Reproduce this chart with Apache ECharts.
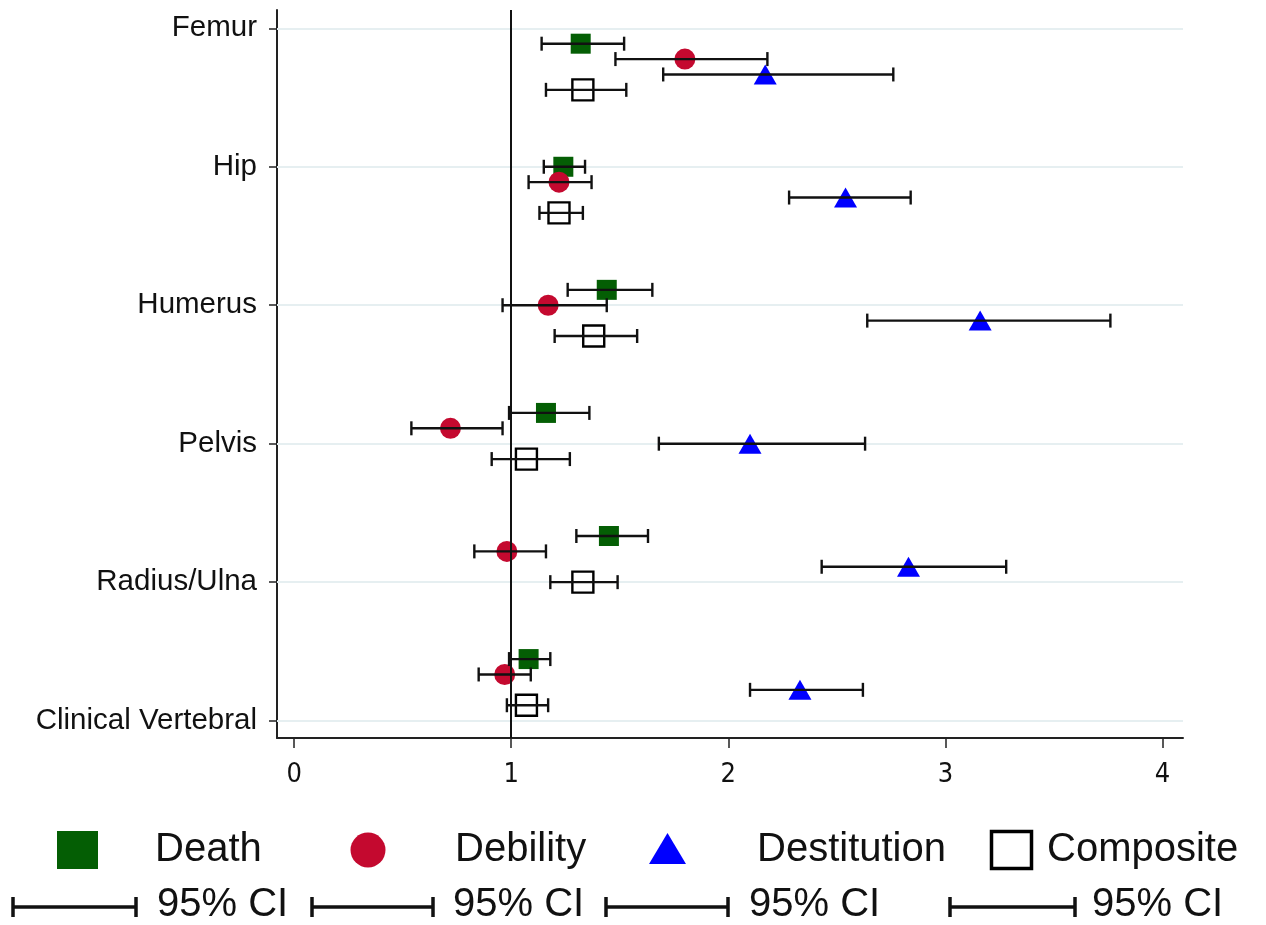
<!DOCTYPE html>
<html>
<head>
<meta charset="utf-8">
<script src="https://cdn.jsdelivr.net/npm/echarts@6/dist/echarts.min.js"></script>
<style>
  html, body { margin: 0; padding: 0; background: #fff; }
  #chart { width: 1266px; height: 925px; }
</style>
</head>
<body>
<div id="chart"></div>
<script>
// ---- Data ----
const categories = ['Femur', 'Hip', 'Humerus', 'Pelvis', 'Radius/Ulna', 'Clinical Vertebral'];
const xTicks = [0, 1, 2, 3, 4];
const seriesNames = ['Death', 'Debility', 'Destitution', 'Composite'];

const death      = [1.32, 1.24, 1.44, 1.16, 1.45, 1.08];
const deathLo    = [1.14, 1.15, 1.26, 0.99, 1.30, 0.99];
const deathHi    = [1.52, 1.34, 1.65, 1.36, 1.63, 1.18];

const debility   = [1.80, 1.22, 1.17, 0.72, 0.98, 0.97];
const debilityLo = [1.48, 1.08, 0.96, 0.54, 0.83, 0.85];
const debilityHi = [2.18, 1.37, 1.44, 0.96, 1.16, 1.09];

const destitution   = [2.17, 2.54, 3.16, 2.10, 2.83, 2.33];
const destitutionLo = [1.70, 2.28, 2.64, 1.68, 2.43, 2.10];
const destitutionHi = [2.76, 2.84, 3.76, 2.63, 3.28, 2.62];

const composite   = [1.33, 1.22, 1.38, 1.07, 1.33, 1.07];
const compositeLo = [1.16, 1.13, 1.20, 0.91, 1.18, 0.98];
const compositeHi = [1.53, 1.33, 1.58, 1.27, 1.49, 1.17];

// ---- Layout of rows (row index on a numeric y axis) ----
const LABEL_STEP = 9;   // category label spacing in rows
const GROUP_STEP = 8;   // group spacing in rows
const labelRows = categories.map((c, i) => i * LABEL_STEP);
function rowOf(catIdx, seriesIdx) { return catIdx * GROUP_STEP + 1 + seriesIdx; }

const est = [death, debility, destitution, composite];
const los = [deathLo, debilityLo, destitutionLo, compositeLo];
const his = [deathHi, debilityHi, destitutionHi, compositeHi];

const colors = ['#045e04', '#c4092f', '#0000ff', '#000000'];
const FONT = "'Liberation Sans', Arial, 'Helvetica', sans-serif";
const NARROW = "'Liberation Sans Narrow', 'Arial Narrow', 'DejaVu Sans Condensed', sans-serif";

const chart = echarts.init(document.getElementById('chart'), null, { renderer: 'canvas' });

const markerStyles = [
  { symbol: 'rect', symbolSize: 20, itemStyle: { color: colors[0], opacity: 1 } },
  { symbol: 'circle', symbolSize: 21, itemStyle: { color: colors[1], opacity: 1 } },
  { symbol: 'triangle', symbolSize: [23, 20], itemStyle: { color: colors[2], opacity: 1 } },
  { symbol: 'rect', symbolSize: 21, itemStyle: { color: 'rgba(255,255,255,0)', borderColor: '#000', borderWidth: 2.4, opacity: 1 } }
];

const series = [];

// gridlines + reference line holder
series.push({
  type: 'line',
  data: [],
  silent: true,
  markLine: {
    silent: true,
    symbol: 'none',
    label: { show: false },
    animation: false,
    data: labelRows.map(r => ({ yAxis: r, lineStyle: { color: '#e6eff1', width: 2, type: 'solid' } }))
      .concat([{ xAxis: 1, lineStyle: { color: '#111', width: 2, type: 'solid' } }])
  }
});

seriesNames.forEach((name, s) => {
  series.push(Object.assign({
    name: name,
    type: 'scatter',
    z: 3,
    animation: false,
    data: est[s].map((v, i) => [v, rowOf(i, s)])
  }, markerStyles[s]));
});

seriesNames.forEach((name, s) => {
  series.push({
    name: name + ' 95% CI',
    type: 'custom',
    z: 5,
    animation: false,
    encode: { x: [0, 1], y: 2 },
    data: los[s].map((lo, i) => [lo, his[s][i], rowOf(i, s)]),
    renderItem: function (params, api) {
      const a = api.coord([api.value(0), api.value(2)]);
      const b = api.coord([api.value(1), api.value(2)]);
      const h = 7;
      const st = { stroke: '#111', lineWidth: 2.4 };
      return {
        type: 'group',
        children: [
          { type: 'line', shape: { x1: a[0], y1: a[1], x2: b[0], y2: b[1] }, style: st },
          { type: 'line', shape: { x1: a[0], y1: a[1] - h, x2: a[0], y2: a[1] + h }, style: st },
          { type: 'line', shape: { x1: b[0], y1: b[1] - h, x2: b[0], y2: b[1] + h }, style: st }
        ]
      };
    }
  });
});

// ---- Legend drawn as graphics ----
const legendRow1Y = 850;
const legendRow2Y = 907;
const graphics = [];
graphics.push({ type: 'rect', shape: { x: 57, y: legendRow1Y - 19, width: 41, height: 38 }, style: { fill: colors[0] } });
graphics.push({ type: 'circle', shape: { cx: 368, cy: legendRow1Y, r: 17.5 }, style: { fill: colors[1] } });
graphics.push({ type: 'polygon', shape: { points: [[667.5, legendRow1Y - 17], [686, legendRow1Y + 14], [649, legendRow1Y + 14]] }, style: { fill: colors[2] } });
graphics.push({ type: 'rect', shape: { x: 991.5, y: legendRow1Y - 18.5, width: 40, height: 37 }, style: { fill: 'none', stroke: '#000', lineWidth: 3.5 } });

const legendTextX = [155, 455, 757, 1047];
seriesNames.forEach((n, i) => {
  graphics.push({ type: 'text', x: legendTextX[i], y: legendRow1Y, style: { text: n, font: '40px ' + FONT, fill: '#111', textVerticalAlign: 'middle', textAlign: 'left' } });
});

const ciBars = [[13, 136], [312, 433], [606, 728], [950, 1075]];
const ciTextX = [157, 453, 749, 1092];
ciBars.forEach((b, i) => {
  const st = { stroke: '#111', lineWidth: 3.5 };
  graphics.push({ type: 'line', shape: { x1: b[0], y1: legendRow2Y, x2: b[1], y2: legendRow2Y }, style: st });
  graphics.push({ type: 'line', shape: { x1: b[0], y1: legendRow2Y - 10, x2: b[0], y2: legendRow2Y + 10 }, style: st });
  graphics.push({ type: 'line', shape: { x1: b[1], y1: legendRow2Y - 10, x2: b[1], y2: legendRow2Y + 10 }, style: st });
  graphics.push({ type: 'text', x: ciTextX[i], y: legendRow2Y - 2, style: { text: '95% CI', font: '40px ' + FONT, fill: '#111', textVerticalAlign: 'middle', textAlign: 'left' } });
});

const option = {
  backgroundColor: '#ffffff',
  animation: false,
  grid: { left: 277, top: 10, right: 83, bottom: 187, containLabel: false },
  xAxis: {
    type: 'value',
    min: -0.079,
    max: 4.0945,
    axisLine: { show: true, onZero: false, lineStyle: { color: '#222', width: 2 } },
    axisTick: { show: true, length: 10, customValues: xTicks, lineStyle: { color: '#222', width: 1.5 } },
    axisLabel: { customValues: xTicks, margin: 23, fontSize: 27, fontFamily: NARROW, color: '#111' },
    splitLine: { show: false }
  },
  yAxis: {
    type: 'value',
    inverse: true,
    min: -1.19,
    max: 46.13,
    axisLine: { show: true, onZero: false, lineStyle: { color: '#222', width: 2 } },
    axisTick: { show: true, length: 8, customValues: labelRows, lineStyle: { color: '#222', width: 1.5 } },
    axisLabel: {
      customValues: labelRows,
      margin: 20,
      fontSize: 29.5,
      fontFamily: FONT,
      color: '#111',
      formatter: function (v) {
        const i = labelRows.indexOf(Math.round(v));
        return i >= 0 ? categories[i] : '';
      }
    },
    splitLine: { show: false }
  },
  series: series,
  graphic: graphics
};

chart.setOption(option);
</script>
</body>
</html>
